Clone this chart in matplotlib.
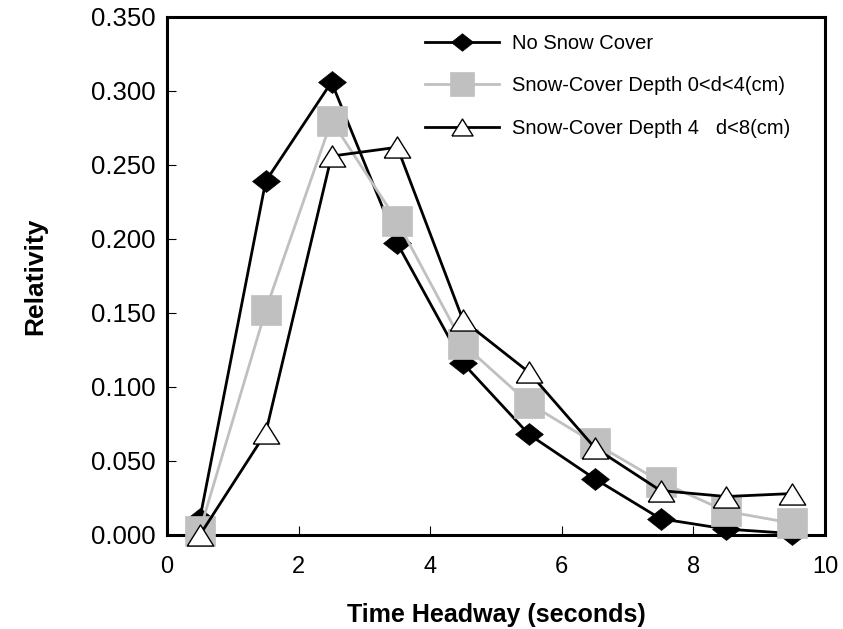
import numpy as np
import matplotlib
matplotlib.use("Agg")
import matplotlib.pyplot as plt

plt.rcParams['font.family'] = ['Liberation Sans', 'DejaVu Sans']

# datos
headway = [0.5, 1.5, 2.5, 3.5, 4.5, 5.5, 6.5, 7.5, 8.5, 9.5]
no_snow = [0.011, 0.239, 0.306, 0.197, 0.116, 0.068, 0.038, 0.011, 0.004, 0.001]
snow_0_4 = [0.003, 0.152, 0.280, 0.212, 0.129, 0.089, 0.062, 0.036, 0.016, 0.008]
snow_4_8 = [0.000, 0.069, 0.256, 0.262, 0.145, 0.110, 0.059, 0.030, 0.026, 0.028]

labels = ["No Snow Cover",
          "Snow-Cover Depth 0<d<4(cm)",
          "Snow-Cover Depth 4   d<8(cm)"]

x_ticks = [0, 2, 4, 6, 8, 10]
y_ticks = [0.0, 0.05, 0.10, 0.15, 0.20, 0.25, 0.30, 0.35]

gris = "#c0c0c0"

# marcadores a medida (rombo aplastado y triángulo bajo)
rombo = [(-1, 0), (0, 0.79), (1, 0), (0, -0.79), (-1, 0)]
triangulo = [(-1, -0.8), (1, -0.8), (0, 0.8), (-1, -0.8)]

fig = plt.figure(figsize=(8.43, 6.29), dpi=100)
ax = fig.add_axes([167/843, 1 - 535/629, (825-167)/843, (535-17)/629])

ax.plot(headway, no_snow, color="black", lw=2, marker=rombo, ms=20,
        mfc="black", mec="black", mew=0.5, clip_on=False, zorder=3,
        label=labels[0])
ax.plot(headway, snow_0_4, color=gris, lw=2, marker="s", ms=22,
        mfc=gris, mec=gris, mew=0.5, clip_on=False, zorder=4,
        label=labels[1])
ax.plot(headway, snow_4_8, color="black", lw=2, marker=triangulo, ms=19,
        mfc="white", mec="black", mew=1, clip_on=False, zorder=5,
        label=labels[2])

ax.set_xlim(0, 10)
ax.set_ylim(0, 0.35)
ax.set_xticks(x_ticks)
ax.set_yticks(y_ticks)
ax.set_yticklabels(["%.3f" % v for v in y_ticks])

for s in ax.spines.values():
    s.set_linewidth(2.2)

ax.tick_params(axis="both", direction="in", length=6.5, width=0.8,
               top=False, right=False)
ax.tick_params(axis="y", pad=8, labelsize=18.5)
ax.tick_params(axis="x", pad=15, labelsize=17)

ax.set_xlabel("Time Headway (seconds)", fontsize=18, fontweight="bold",
              labelpad=18)
ax.set_ylabel("Relativity", fontsize=19, fontweight="bold", labelpad=32)

ax.legend(loc="upper left", bbox_to_anchor=(0.392, 0.968), frameon=False,
          fontsize=14.5, handlelength=3.7, handletextpad=0.6,
          labelspacing=1.17, markerscale=0.8, borderpad=0, borderaxespad=0)

fig.savefig("out.png", dpi=100)
